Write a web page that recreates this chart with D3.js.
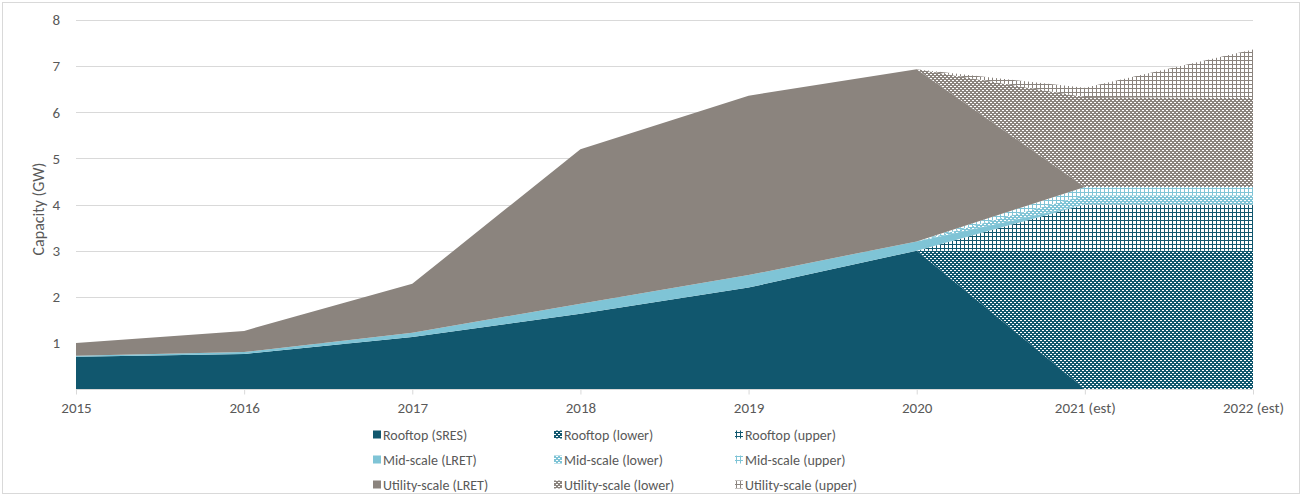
<!DOCTYPE html>
<html>
<head>
<meta charset="utf-8">
<script src="https://cdn.jsdelivr.net/npm/d3@7/dist/d3.min.js"></script>
<style>
  html, body { margin: 0; padding: 0; background: #fff; }
  svg text { font-family: Carlito, Lato, "Liberation Sans", sans-serif; fill: #595959; }
</style>
</head>
<body>
<svg id="chart" width="1303" height="497"></svg>
<script>
// Categories (years) and capacity values in GW for each stacked series
const years = ["2015", "2016", "2017", "2018", "2019", "2020", "2021 (est)", "2022 (est)"];
const rooftopSRES   = [0.70, 0.76, 1.13, 1.63, 2.20, 3.00, 0, 0];
const rooftopLower  = [0, 0, 0, 0, 0, 0, 3.00, 3.00];
const rooftopUpper  = [0, 0, 0, 0, 0, 0, 1.00, 1.00];
const midLRET       = [0.02, 0.04, 0.09, 0.22, 0.27, 0.20, 0, 0];
const midLower      = [0, 0, 0, 0, 0, 0, 0.20, 0.20];
const midUpper      = [0, 0, 0, 0, 0, 0, 0.18, 0.18];
const utilityLRET   = [0.28, 0.46, 1.06, 3.35, 3.89, 3.73, 0, 0];
const utilityLower  = [0, 0, 0, 0, 0, 0, 1.95, 1.93];
const utilityUpper  = [0, 0, 0, 0, 0, 0, 0.20, 1.05];
const yTicks = [1, 2, 3, 4, 5, 6, 7, 8];

const seriesNames = [
  "Rooftop (SRES)", "Rooftop (lower)", "Rooftop (upper)",
  "Mid-scale (LRET)", "Mid-scale (lower)", "Mid-scale (upper)",
  "Utility-scale (LRET)", "Utility-scale (lower)", "Utility-scale (upper)"
];
const seriesValues = [
  rooftopSRES, rooftopLower, rooftopUpper,
  midLRET, midLower, midUpper,
  utilityLRET, utilityLower, utilityUpper
];

const rooftopColor = "#11576E";
const midColor = "#7FC4D6";
const utilityColor = "#8B847E";
const baseColors = [rooftopColor, rooftopColor, rooftopColor, midColor, midColor, midColor, utilityColor, utilityColor, utilityColor];
const fillKinds = ["solid", "lower", "upper", "solid", "lower", "upper", "solid", "lower", "upper"];

const svg = d3.select("#chart");

// outer frame
svg.append("rect")
  .attr("x", 2.5).attr("y", 2.5).attr("width", 1297).attr("height", 491)
  .attr("fill", "#fff").attr("stroke", "#D9D9D9");

// pattern fills for the estimate ranges
const defs = svg.append("defs");
function makePattern(id, color, kind) {
  const p = defs.append("pattern")
    .attr("id", id).attr("patternUnits", "userSpaceOnUse")
    .attr("width", 4).attr("height", 4);
  if (kind === "lower") {
    // coloured ground with white dots in a staggered grid
    p.append("rect").attr("width", 4).attr("height", 4).attr("fill", color);
    p.append("rect").attr("x", 0).attr("y", 0).attr("width", 2).attr("height", 1).attr("fill", "#fff");
    p.append("rect").attr("x", 2).attr("y", 2).attr("width", 2).attr("height", 1).attr("fill", "#fff");
  } else {
    // fine grid: coloured lines on white
    p.append("rect").attr("width", 4).attr("height", 4).attr("fill", "#fff");
    p.append("rect").attr("x", 0).attr("y", 0).attr("width", 4).attr("height", 1).attr("fill", color);
    p.append("rect").attr("x", 0).attr("y", 0).attr("width", 1).attr("height", 4).attr("fill", color);
  }
}
const fills = seriesNames.map((name, i) => {
  if (fillKinds[i] === "solid") return baseColors[i];
  const id = "pat" + i;
  makePattern(id, baseColors[i], fillKinds[i]);
  return `url(#${id})`;
});

const margin = { left: 76, right: 50, top: 20, bottom: 108 };
const width = 1303, height = 497;

const x = d3.scalePoint().domain(years).range([margin.left, width - margin.right]);
const y = d3.scaleLinear().domain([0, 8]).range([height - margin.bottom, margin.top]);

// gridlines
svg.append("g")
  .selectAll("line")
  .data(yTicks)
  .join("line")
  .attr("x1", margin.left).attr("x2", width - margin.right)
  .attr("y1", d => Math.round(y(d)) + 0.5).attr("y2", d => Math.round(y(d)) + 0.5)
  .attr("stroke", "#D9D9D9").attr("stroke-width", 1);

// stacked data table
const table = years.map((yr, i) => {
  const row = { year: yr };
  seriesNames.forEach((n, k) => { row[n] = seriesValues[k][i]; });
  return row;
});
const stacked = d3.stack().keys(seriesNames)(table);

const area = d3.area()
  .x(d => x(d.data.year))
  .y0(d => y(d[0]))
  .y1(d => y(d[1]));

svg.append("g")
  .selectAll("path")
  .data(stacked)
  .join("path")
  .attr("d", area)
  .attr("fill", (d, i) => fills[i]);

// y axis labels (no line)
const yAxis = d3.axisLeft(y).tickValues(yTicks).tickSize(0).tickPadding(16).tickFormat(d3.format("d"));
const yg = svg.append("g").attr("transform", `translate(${margin.left},0)`).call(yAxis);
yg.select(".domain").remove();
yg.selectAll("text").attr("font-size", 15).style("fill", "#595959");

// x axis
const xAxis = d3.axisBottom(x).tickSize(5).tickPadding(8);
const xg = svg.append("g").attr("transform", `translate(0,${y(0) + 0.5})`).call(xAxis);
xg.select(".domain").attr("stroke", "#D9D9D9").attr("d", `M${margin.left},0H${width - margin.right}`);
xg.selectAll(".tick line").attr("stroke", "#D9D9D9");
xg.selectAll("text").attr("font-size", 15).style("fill", "#595959");

// y axis title
svg.append("text")
  .attr("transform", `translate(44,209) rotate(-90)`)
  .attr("text-anchor", "middle")
  .attr("font-size", 16)
  .text("Capacity (GW)");

// legend: 3 columns x 3 rows
const legendCols = [373, 554, 735];
const legendRows = [435, 460, 485];
const lg = svg.append("g");
seriesNames.forEach((name, i) => {
  const cx = legendCols[i % 3];
  const cy = legendRows[Math.floor(i / 3)];
  lg.append("rect")
    .attr("x", cx).attr("y", cy - 4.5).attr("width", 8).attr("height", 8)
    .attr("fill", fills[i]);
  lg.append("text")
    .attr("x", cx + 10).attr("y", cy)
    .attr("dy", "0.35em")
    .attr("font-size", 14)
    .text(name);
});
</script>
</body>
</html>
